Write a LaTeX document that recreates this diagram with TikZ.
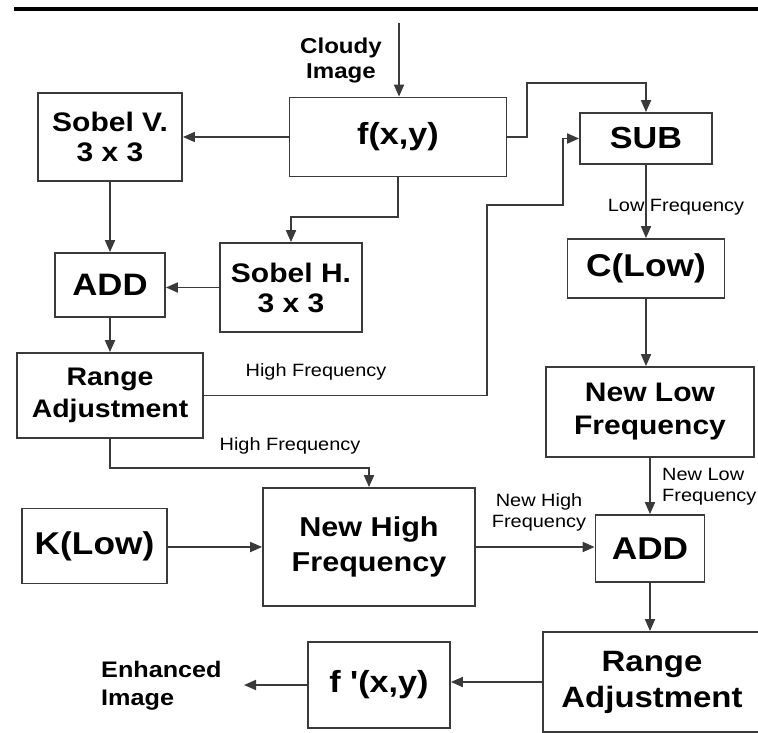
\documentclass[tikz,border=0pt]{standalone}
\usepackage{fontspec}
\setmainfont{Liberation Sans}[FakeStretch=1.12]
\newfontfamily\plainsans{Liberation Sans}[FakeStretch=1.12]
\usetikzlibrary{arrows.meta}
\definecolor{linegray}{HTML}{3A3A3A}
\newcommand{\boxsize}[2]{\fontsize{#1}{#2}\selectfont\bfseries}
\tikzset{
  procbox/.style={
    draw=linegray,
    line width=1.8pt,
    align=center,
    inner sep=0pt
  },
  flowarrow/.style={-{Triangle[length=12pt,width=10pt]}, line width=1.8pt, draw=linegray},
  flowlabel/.style={font=\fontsize{17.8}{21}\selectfont, inner sep=0pt, align=center},
  termlabel/.style={inner sep=0pt}
}

\begin{document}
\begin{tikzpicture}[x=1pt, y=-1pt]
\useasboundingbox (0,0) rectangle (758,733);
\draw[line width=4pt, black] (14,9) -- (758,9);

% left branch
\node[procbox, minimum width=217pt, minimum height=79pt, font=\boxsize{30.5}{36}] (fxy) at (398,137) {f(x,y)};
\node[procbox, minimum width=144pt, minimum height=88pt, font=\boxsize{26.8}{30}] (sobv) at (110,137) {Sobel V.\\3 x 3};
\node[procbox, minimum width=142pt, minimum height=89pt, font=\boxsize{26.8}{30}] (sobh) at (291,287.5) {Sobel H.\\3 x 3};
\node[procbox, minimum width=110pt, minimum height=64pt, font=\boxsize{31}{36}] (add1) at (110,285) {ADD};
\node[procbox, minimum width=186pt, minimum height=85pt, font=\boxsize{25.4}{32}] (ra1) at (110,395.5) {Range\\Adjustment};

% right branch
\node[procbox, minimum width=132pt, minimum height=51pt, font=\boxsize{30.5}{36}] (sub) at (646,138.5) {SUB};
\node[procbox, minimum width=157pt, minimum height=59pt, font=\boxsize{31.5}{36}] (clow) at (646,268.5) {C(Low)};
\node[procbox, minimum width=208pt, minimum height=90pt, font=\boxsize{26.8}{33}] (nlf) at (650,412) {New Low\\Frequency};
\node[procbox, minimum width=109pt, minimum height=67pt, font=\boxsize{31.5}{36}] (add2) at (650,548.5) {ADD};
\node[procbox, minimum width=218pt, minimum height=100pt, font=\boxsize{29.4}{36}] (ra2) at (652,682) {Range\\Adjustment};

% bottom row
\node[procbox, minimum width=145pt, minimum height=75pt, font=\boxsize{31.5}{36}] (klow) at (94.5,546) {K(Low)};
\node[procbox, minimum width=212pt, minimum height=118pt, font=\boxsize{27.3}{35}] (nhf) at (369,547) {New High\\Frequency};
\node[procbox, minimum width=142pt, minimum height=86pt, font=\plainsans\boxsize{30.5}{36}] (fp) at (379,685) {f '(x,y)};

% input and output
\node[termlabel, align=center, font=\boxsize{21.5}{25}] (cloudy) at (341,60) {Cloudy\\Image};
\node[termlabel, align=left, anchor=west, font=\boxsize{22.5}{28}] (enhanced) at (101,686) {Enhanced\\Image};
\coordinate (cin) at (399,23);
\coordinate (cout) at (244,685);

% edge labels
\node[flowlabel] (hfup) at (316,372) {High Frequency};
\node[flowlabel] (hfdown) at (290,446) {High Frequency};
\node[flowlabel] (lowf) at (676,207) {Low Frequency};
\node[flowlabel, align=left, anchor=west] (nlflab) at (662,487) {New Low\\Frequency};
\node[flowlabel] (nhflab) at (539,512) {New High\\Frequency};

\draw[flowarrow] (cin) -- (cin |- fxy.north);
\draw[flowarrow] (fxy.west) -- (fxy.west -| sobv.east);
\draw[flowarrow] (fxy.east) -- (527,137) -- (527,83) -| (sub.north);
\draw[flowarrow] (fxy.south) -- (398,217) -| (sobh.north);
\draw[flowarrow] (sobv.south) -- (sobv.south |- add1.north);
\draw[flowarrow] (sobh.west) -- (sobh.west -| add1.east);
\draw[flowarrow] (add1.south) -- (add1.south |- ra1.north);
\draw[flowarrow] (ra1.east) -- (487,395.5) -- (487,205) -- (563,205) |- (sub.west);
\draw[flowarrow] (ra1.south) -- (110,468) -| (nhf.north);
\draw[flowarrow] (sub.south) -- (sub.south |- clow.north);
\draw[flowarrow] (clow.south) -- (clow.south |- nlf.north);
\draw[flowarrow] (nlf.south) -- (nlf.south |- add2.north);
\draw[flowarrow] (nhf.west -| klow.east) -- (nhf.west);
\draw[flowarrow] (nhf.east) -- (nhf.east -| add2.west);
\draw[flowarrow] (add2.south) -- (add2.south |- ra2.north);
\draw[flowarrow] (ra2.west) -- (ra2.west -| fp.east);
\draw[flowarrow] (fp.west) -- (cout);
\end{tikzpicture}
\end{document}
